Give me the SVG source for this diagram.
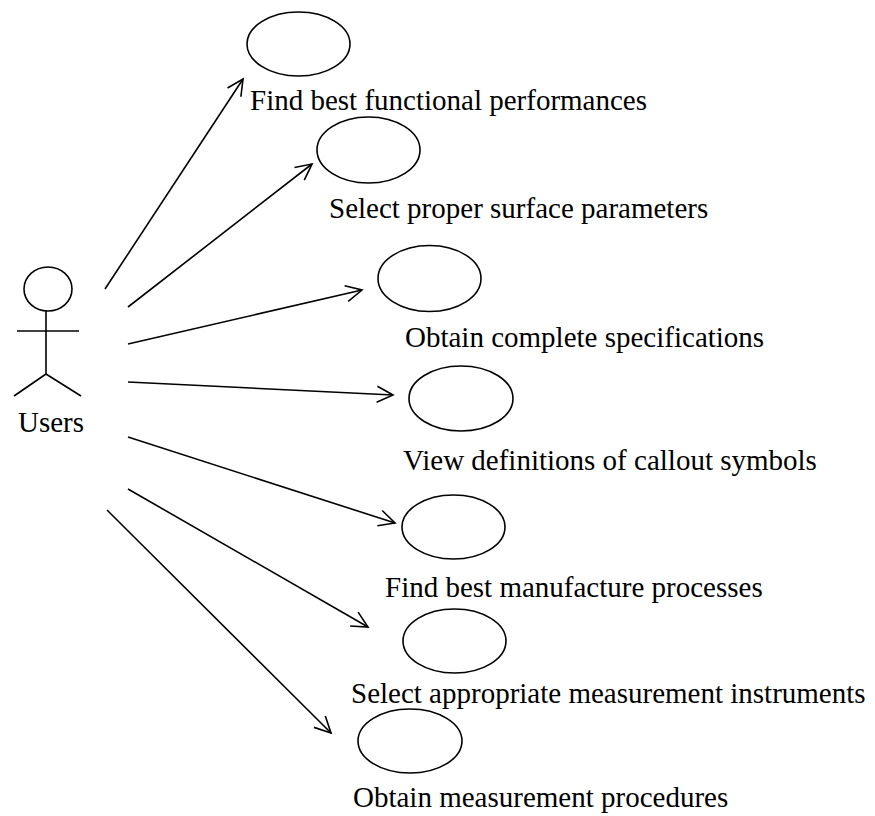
<svg xmlns="http://www.w3.org/2000/svg" width="875" height="816" viewBox="0 0 875 816">
  <defs>
    <style>
      .shape { fill: none; stroke: #000; stroke-width: 1.6; }
      .label { font-family: "Liberation Serif", "Times New Roman", serif; font-size: 29px; fill: #000; }
      .conn { stroke: #000; stroke-width: 1.6; fill: none; marker-end: url(#open-arrow); }
    </style>
    <marker id="open-arrow" markerUnits="userSpaceOnUse" markerWidth="40" markerHeight="40" viewBox="-20 -20 40 40" refX="0" refY="0" orient="auto">
      <path d="M-16,-8 L0,0 L-16,8" fill="none" stroke="#000" stroke-width="1.6"/>
    </marker>
  </defs>
  <rect width="875" height="816" fill="#fff"/>

  <!-- actor -->
  <g id="users">
    <ellipse class="shape" cx="48" cy="289" rx="24" ry="22"/>
    <line class="shape" x1="46" y1="311" x2="46" y2="374"/>
    <line class="shape" x1="17" y1="331" x2="79" y2="331"/>
    <line class="shape" x1="46" y1="374" x2="14" y2="396"/>
    <line class="shape" x1="46" y1="374" x2="81" y2="396"/>
    <text class="label" x="18" y="432">Users</text>
  </g>

  <!-- use cases -->
  <g id="uc-functional">
    <ellipse class="shape" cx="298.5" cy="44" rx="51.5" ry="32"/>
    <text class="label" x="250" y="110">Find best functional performances</text>
  </g>
  <g id="uc-surface">
    <ellipse class="shape" cx="368.5" cy="150" rx="51.5" ry="33"/>
    <text class="label" x="329" y="218">Select proper surface parameters</text>
  </g>
  <g id="uc-specifications">
    <ellipse class="shape" cx="429.5" cy="278.5" rx="51.5" ry="33"/>
    <text class="label" x="405" y="347">Obtain complete specifications</text>
  </g>
  <g id="uc-callout">
    <ellipse class="shape" cx="461" cy="398.5" rx="52" ry="32.5"/>
    <text class="label" x="403" y="470">View definitions of callout symbols</text>
  </g>
  <g id="uc-manufacture">
    <ellipse class="shape" cx="453.5" cy="527" rx="51.5" ry="32"/>
    <text class="label" x="385" y="597">Find best manufacture processes</text>
  </g>
  <g id="uc-instruments">
    <ellipse class="shape" cx="454.5" cy="641" rx="51.5" ry="32"/>
    <text class="label" x="351" y="703">Select appropriate measurement instruments</text>
  </g>
  <g id="uc-procedures">
    <ellipse class="shape" cx="410" cy="741" rx="52" ry="32"/>
    <text class="label" x="353" y="807">Obtain measurement procedures</text>
  </g>

  <!-- associations -->
  <g id="connectors">
    <line class="conn" x1="105" y1="289" x2="243" y2="79"/>
    <line class="conn" x1="128" y1="307" x2="312" y2="164"/>
    <line class="conn" x1="128" y1="344" x2="362" y2="290"/>
    <line class="conn" x1="128" y1="382" x2="393" y2="395"/>
    <line class="conn" x1="128" y1="437" x2="395" y2="523"/>
    <line class="conn" x1="128" y1="489" x2="368" y2="627"/>
    <line class="conn" x1="107" y1="510" x2="331" y2="733"/>
  </g>
</svg>
